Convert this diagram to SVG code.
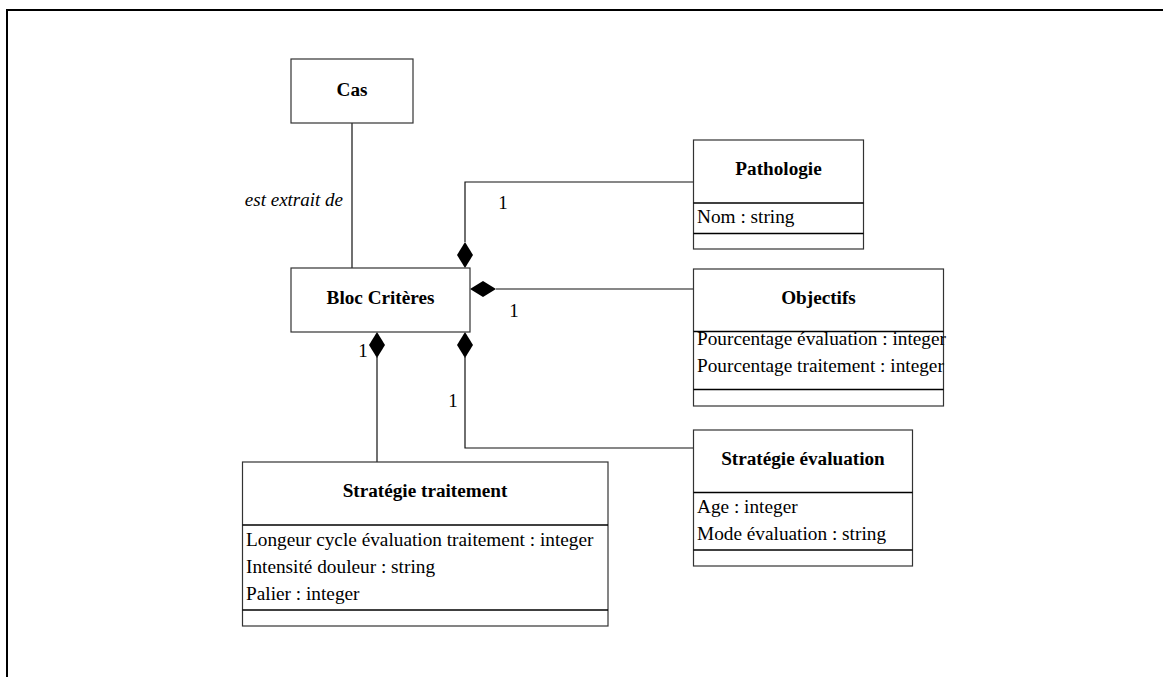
<svg xmlns="http://www.w3.org/2000/svg" width="1163" height="677" viewBox="0 0 1163 677">
  <style>
    .frame { fill: none; stroke: #000; stroke-width: 2; }
    .box { fill: #fff; stroke: #333; stroke-width: 1.2; }
    .div { stroke: #000; stroke-width: 1.5; }
    .link { fill: none; stroke: #111; stroke-width: 1.2; }
    .dia { fill: #000; stroke: none; }
    .title { font-family: "Liberation Serif", "Times New Roman", serif; font-size: 19.2px; font-weight: bold; text-anchor: middle; fill: #000; }
    .attr { font-family: "Liberation Serif", "Times New Roman", serif; font-size: 19.3px; fill: #000; }
    .lbl { font-family: "Liberation Serif", "Times New Roman", serif; font-size: 19px; fill: #000; text-anchor: middle; }
    .role { font-family: "Liberation Serif", "Times New Roman", serif; font-size: 19px; font-style: italic; fill: #000; text-anchor: end; }
  </style>
  <defs>
    <!-- composition diamond, pointing along +x, tip at origin -->
    <polygon id="diamond" class="dia" points="0,0 13,-8 26,0 13,8"/>
  </defs>

  <rect width="1163" height="677" fill="#fff"/>
  <!-- page frame -->
  <path class="frame" d="M7,677 V10 H1163"/>

  <g id="connectors">
    <!-- Cas - Bloc Critères -->
    <line class="link" x1="352" y1="123" x2="352" y2="268"/>
    <text class="role" x="343" y="206">est extrait de</text>

    <!-- Bloc Critères - Pathologie -->
    <path class="link" d="M465,242 V182 H693"/>
    <use href="#diamond" transform="translate(465,268) rotate(-90)"/>
    <text class="lbl" x="503" y="209">1</text>

    <!-- Bloc Critères - Objectifs -->
    <line class="link" x1="496" y1="289" x2="693" y2="289"/>
    <use href="#diamond" transform="translate(470,289)"/>
    <text class="lbl" x="514" y="317">1</text>

    <!-- Bloc Critères - Stratégie traitement -->
    <line class="link" x1="377" y1="357" x2="377" y2="462"/>
    <use href="#diamond" transform="translate(377,332) rotate(90)"/>
    <text class="lbl" x="363" y="357">1</text>

    <!-- Bloc Critères - Stratégie évaluation -->
    <path class="link" d="M465,357 V448 H693"/>
    <use href="#diamond" transform="translate(465,332) rotate(90)"/>
    <text class="lbl" x="453" y="407">1</text>
  </g>

  <g id="cas">
    <rect class="box" x="291" y="59" width="122" height="64"/>
    <text class="title" x="352" y="96">Cas</text>
  </g>

  <g id="bloc-criteres">
    <rect class="box" x="291" y="268" width="179" height="64"/>
    <text class="title" x="380.5" y="304">Bloc Critères</text>
  </g>

  <g id="pathologie">
    <rect class="box" x="693.5" y="140" width="170" height="109"/>
    <line class="div" x1="693.5" y1="203" x2="863.5" y2="203"/>
    <line class="div" x1="693.5" y1="233.5" x2="863.5" y2="233.5"/>
    <text class="title" x="778.5" y="175">Pathologie</text>
    <text class="attr" x="697" y="223">Nom : string</text>
  </g>

  <g id="objectifs">
    <rect class="box" x="693.5" y="269" width="250" height="137"/>
    <line class="div" x1="693.5" y1="331.5" x2="943.5" y2="331.5"/>
    <line class="div" x1="693.5" y1="389.5" x2="943.5" y2="389.5"/>
    <text class="title" x="818.5" y="304">Objectifs</text>
    <text class="attr" x="697" y="345">Pourcentage évaluation : integer</text>
    <text class="attr" x="697" y="372">Pourcentage traitement : integer</text>
  </g>

  <g id="strategie-evaluation">
    <rect class="box" x="693.5" y="430" width="219" height="136"/>
    <line class="div" x1="693.5" y1="492.5" x2="912.5" y2="492.5"/>
    <line class="div" x1="693.5" y1="550" x2="912.5" y2="550"/>
    <text class="title" x="803" y="465">Stratégie évaluation</text>
    <text class="attr" x="697" y="513">Age : integer</text>
    <text class="attr" x="697" y="540">Mode évaluation : string</text>
  </g>

  <g id="strategie-traitement">
    <rect class="box" x="242.5" y="462" width="365.5" height="164"/>
    <line class="div" x1="242.5" y1="525" x2="608" y2="525"/>
    <line class="div" x1="242.5" y1="610" x2="608" y2="610"/>
    <text class="title" x="425" y="497">Stratégie traitement</text>
    <text class="attr" x="246" y="546">Longeur cycle évaluation traitement : integer</text>
    <text class="attr" x="246" y="573">Intensité douleur : string</text>
    <text class="attr" x="246" y="600">Palier : integer</text>
  </g>
</svg>
